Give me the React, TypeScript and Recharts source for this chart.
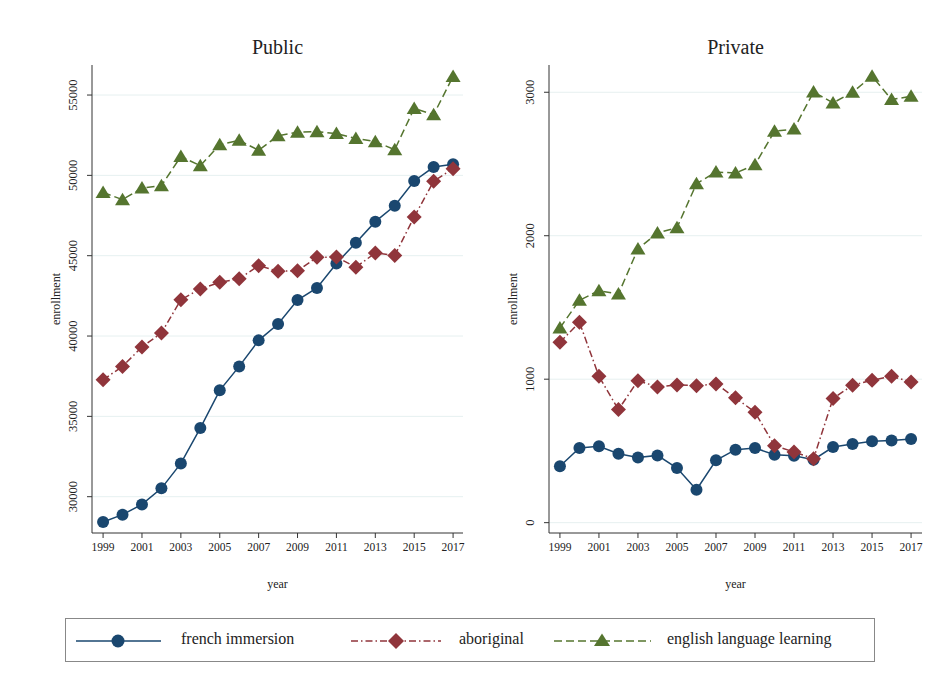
import React from "react";
import { LineChart, Line, XAxis, YAxis, CartesianGrid } from "recharts";

const years = [1999,2000,2001,2002,2003,2004,2005,2006,2007,2008,2009,2010,2011,2012,2013,2014,2015,2016,2017];
const pubFrench = [28420,28880,29520,30520,32070,34270,36620,38110,39730,40750,42240,42990,44520,45810,47120,48110,49650,50520,50690];
const pubAbor = [37280,38110,39320,40190,42260,42930,43340,43570,44380,44030,44070,44900,44920,44280,45170,45020,47410,49630,50420];
const pubEll = [48940,48490,49210,49360,51180,50600,51910,52180,51560,52470,52680,52720,52600,52300,52100,51600,54170,53780,56160];
const privFrench = [393,520,532,481,455,469,381,230,435,509,520,474,467,439,527,548,567,572,583];
const privAbor = [1257,1397,1020,788,990,946,960,955,967,870,770,537,493,446,865,958,993,1020,981];
const privEll = [1357,1550,1617,1594,1908,2019,2056,2363,2444,2437,2495,2728,2744,3002,2926,3000,3112,2949,2972];
const xTicks = [1999,2001,2003,2005,2007,2009,2011,2013,2015,2017];
const pubTicks = [30000,35000,40000,45000,50000,55000];
const privTicks = [0,1000,2000,3000];

const C_FR = "#1a476f", C_AB = "#90353b", C_EL = "#55752f";
const FONT = "'Liberation Serif', 'DejaVu Serif', serif";

const pubData = years.map((y, i) => ({ year: y, fr: pubFrench[i], ab: pubAbor[i], el: pubEll[i] }));
const privData = years.map((y, i) => ({ year: y, fr: privFrench[i], ab: privAbor[i], el: privEll[i] }));

const Circle = (p: any) => <circle cx={p.cx} cy={p.cy} r={6} fill={C_FR} />;
const Diamond = (p: any) => <polygon points={`${p.cx},${p.cy-7.5} ${p.cx+7.5},${p.cy} ${p.cx},${p.cy+7.5} ${p.cx-7.5},${p.cy}`} fill={C_AB} />;
const Tri = (p: any) => <polygon points={`${p.cx},${p.cy-7} ${p.cx+7.5},${p.cy+5.5} ${p.cx-7.5},${p.cy+5.5}`} fill={C_EL} />;

const YTick = (p: any) => (
  <text x={p.x - 8} y={p.y} transform={`rotate(-90 ${p.x - 8} ${p.y})`} textAnchor="middle" fontSize={12.5} fontFamily={FONT} fill="#222">{p.payload.value}</text>
);
const XTick = (p: any) => (
  <text x={p.x} y={p.y + 11} textAnchor="middle" fontSize={11.5} fontFamily={FONT} fill="#222">{p.payload.value}</text>
);

const YLabel = (p: any) => {
  const vb = p.viewBox;
  const x = vb.x + vb.width - 32;
  const y = vb.y + vb.height / 2;
  return <text x={x} y={y} transform={`rotate(-90 ${x} ${y})`} textAnchor="middle" fontSize={12} fontFamily={FONT} fill="#222">enrollment</text>;
};

function Panel({ data, left, yw, right, domain, ticks, xdom, title }: any) {
  return (
    <div style={{ position: "absolute", left, top: 0 }}>
      <div style={{ position: "absolute", top: 36, left: yw, width: 470 - yw - right, textAlign: "center", fontFamily: FONT, fontSize: 20, color: "#222" }}>{title}</div>
      <LineChart width={470} height={600} data={data} margin={{ top: 65, right, bottom: 0, left: 0 }}>
        <CartesianGrid vertical={false} stroke="#e6f0f0" horizontalValues={ticks} />
        <XAxis dataKey="year" type="number" domain={xdom} ticks={xTicks} height={67} tick={<XTick />} tickSize={5} stroke="#333" allowDataOverflow
          label={{ value: "year", position: "insideTop", offset: 46, fontSize: 12, fontFamily: FONT, fill: "#222" }} />
        <YAxis type="number" domain={domain} ticks={ticks} width={yw} tick={<YTick />} tickSize={5} stroke="#333" allowDataOverflow
          label={<YLabel />} />
        <Line dataKey="fr" stroke={C_FR} strokeWidth={1.5} dot={<Circle />} isAnimationActive={false} />
        <Line dataKey="ab" stroke={C_AB} strokeWidth={1.5} strokeDasharray="7 3 1.5 3" dot={<Diamond />} isAnimationActive={false} />
        <Line dataKey="el" stroke={C_EL} strokeWidth={1.5} strokeDasharray="8 4" dot={<Tri />} isAnimationActive={false} />
      </LineChart>
    </div>
  );
}

export default function App() {
  return (
    <div style={{ position: "absolute", left: 0, top: 0, width: 942, height: 682, background: "#fff" }}>
      <Panel data={pubData} left={0} yw={92} right={7} domain={[27740, 56870]} ticks={pubTicks} xdom={[1998.43, 2017.51]} title="Public" />
      <Panel data={privData} left={470} yw={79} right={18} domain={[-72, 3190]} ticks={privTicks} xdom={[1998.44, 2017.56]} title="Private" />
      <div style={{ position: "absolute", left: 65, top: 618, width: 810, height: 44, border: "1px solid #888", boxSizing: "border-box", fontFamily: FONT, fontSize: 16, color: "#222" }}>
        <svg width={810} height={44} style={{ position: "absolute", left: 0, top: 0 }}>
          <line x1={10} y1={22} x2={95} y2={22} stroke={C_FR} strokeWidth={1.5} />
          <circle cx={52} cy={22} r={6.5} fill={C_FR} />
          <line x1={285} y1={22} x2={375} y2={22} stroke={C_AB} strokeWidth={1.5} strokeDasharray="7 3 1.5 3" />
          <polygon points="330,14 338,22 330,30 322,22" fill={C_AB} />
          <line x1={488} y1={22} x2={585} y2={22} stroke={C_EL} strokeWidth={1.5} strokeDasharray="8 4" />
          <polygon points="536,14.5 544,27 528,27" fill={C_EL} />
        </svg>
        <span style={{ position: "absolute", left: 115, top: 11 }}>french immersion</span>
        <span style={{ position: "absolute", left: 393, top: 11 }}>aboriginal</span>
        <span style={{ position: "absolute", left: 601, top: 11 }}>english language learning</span>
      </div>
    </div>
  );
}
